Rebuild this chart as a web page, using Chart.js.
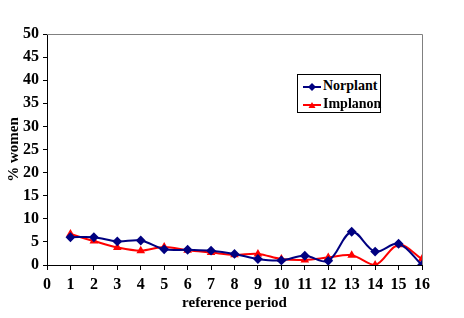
<!DOCTYPE html>
<html lang="en">
<head>
<meta charset="UTF-8" />
<title>Norplant vs Implanon</title>
<script src="https://cdn.jsdelivr.net/npm/chart.js"></script>
<style>
  body { margin: 0; background: #fff; }
  #wrap { position: relative; width: 464px; height: 318px; }
  #leyenda {
    position: absolute; left: 297px; top: 74px; width: 82px; height: 37px;
    border: 1px solid #000; background: #fff;
    font: bold 14px "Liberation Serif", serif; color: #000;
  }
  #leyenda div { position: absolute; left: 5px; height: 17px; line-height: 17px; white-space: nowrap; }
  #leyenda svg { vertical-align: middle; margin-right: 2px; }
</style>
</head>
<body>
<div id="wrap">
  <canvas id="grafica" width="464" height="318"></canvas>
  <div id="leyenda">
    <div style="top:2px"><svg width="18" height="10"><line x1="0" y1="5" x2="18" y2="5" stroke="#000080" stroke-width="2"/><polygon points="9,1 13,5 9,9 5,5" fill="#000080"/></svg>Norplant</div>
    <div style="top:20px"><svg width="18" height="10"><line x1="0" y1="5" x2="18" y2="5" stroke="#ff0000" stroke-width="2"/><polygon points="9,2 12.5,8 5.5,8" fill="#ff0000"/></svg>Implanon</div>
  </div>
</div>

<script>
  const periodos = [1, 2, 3, 4, 5, 6, 7, 8, 9, 10, 11, 12, 13, 14, 15, 16];
  const norplant = [6.0, 6.0, 5.1, 5.3, 3.4, 3.3, 3.1, 2.4, 1.3, 1.0, 2.0, 0.9, 7.2, 2.9, 4.6, 0.0];
  const implanon = [6.7, 5.2, 3.8, 3.1, 3.9, 3.2, 2.7, 2.2, 2.4, 1.3, 1.1, 1.6, 2.1, 0.0, 4.4, 1.3];

  const fuenteTicks = { family: "'Liberation Serif', 'Times New Roman', serif", size: 16, weight: 'bold' };
  const fuenteTitulo = { family: "'Liberation Serif', 'Times New Roman', serif", size: 15, weight: 'bold' };

  // marco gris arriba y a la derecha
  const marco = {
    id: 'marco',
    beforeDatasetsDraw(chart) {
      const { ctx, chartArea: a } = chart;
      ctx.save();
      ctx.strokeStyle = '#808080';
      ctx.lineWidth = 1;
      ctx.beginPath();
      ctx.moveTo(a.left, a.top + 0.5);
      ctx.lineTo(a.right + 0.5, a.top + 0.5);
      ctx.lineTo(a.right + 0.5, a.bottom);
      ctx.stroke();
      ctx.restore();
    }
  };

  new Chart(document.getElementById('grafica'), {
    type: 'line',
    data: {
      datasets: [
        {
          label: 'Norplant',
          data: periodos.map((p, i) => ({ x: p, y: norplant[i] })),
          borderColor: '#000080',
          backgroundColor: '#000080',
          borderWidth: 2,
          pointStyle: 'rectRot',
          pointRadius: 3.5,
          tension: 0.35
        },
        {
          label: 'Implanon',
          data: periodos.map((p, i) => ({ x: p, y: implanon[i] })),
          borderColor: '#ff0000',
          backgroundColor: '#ff0000',
          borderWidth: 2,
          pointStyle: 'triangle',
          pointRadius: 3,
          tension: 0.35
        }
      ]
    },
    options: {
      responsive: false,
      animation: false,
      layout: { padding: { top: 34, right: 42, left: 0, bottom: 0 } },
      plugins: { legend: { display: false }, tooltip: { enabled: false } },
      scales: {
        x: {
          type: 'linear', min: 0, max: 16,
          afterFit: s => { s.height = 53; },
          ticks: { stepSize: 1, color: '#000', font: fuenteTicks, padding: 5, maxRotation: 0 },
          grid: { drawOnChartArea: false, color: '#000', tickLength: 5 },
          border: { color: '#000', width: 1 },
          title: { display: true, text: 'reference period', color: '#000', font: fuenteTitulo, padding: { top: 0, bottom: 6 } }
        },
        y: {
          min: 0, max: 50,
          afterFit: s => { s.width = 47; },
          ticks: { stepSize: 5, color: '#000', font: fuenteTicks, padding: 4 },
          grid: { drawOnChartArea: false, color: '#000', tickLength: 4 },
          border: { color: '#000', width: 1 },
          title: { display: true, text: '% women', color: '#000', font: fuenteTitulo, padding: { top: 5, bottom: 0 } }
        }
      }
    },
    plugins: [marco]
  });
</script>
</body>
</html>
